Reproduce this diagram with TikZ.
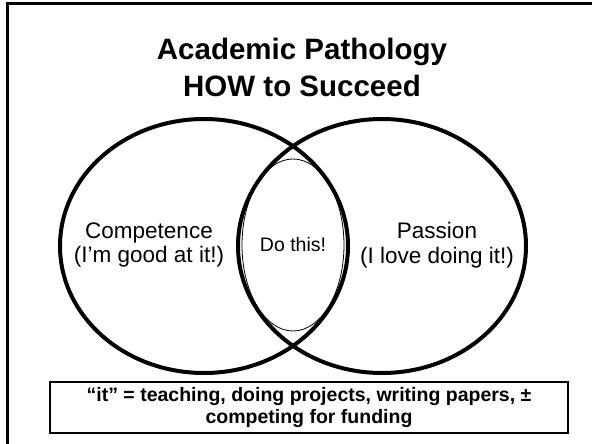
\documentclass[tikz,border=0pt]{standalone}
\usepackage{fontspec}
\setmainfont{Liberation Sans}
\usetikzlibrary{shapes.geometric}
\tikzstyle{ring} = [ellipse, draw, line width=4pt, minimum width=288pt, minimum height=254pt, inner sep=0pt]
\tikzstyle{venntext} = [align=center, font=\fontsize{22.5}{24.5}\selectfont]

\begin{document}
\begin{tikzpicture}[x=1pt, y=-1pt]
                \clip (0,0) rectangle (592,444);
                \draw [line width=3pt] (7,4) rectangle (612,462);

                \node (title) [align=center, font=\bfseries\fontsize{29.5}{36.5}\selectfont] at (302,67.5) {Academic Pathology\\HOW to Succeed};

                \node (competence) [ring] at (204,246) {};
                \node (passion) [ring] at (382,246) {};
                \node (lens) [ellipse, draw, line width=0.8pt, minimum width=102pt, minimum height=172pt, inner sep=0pt, font=\fontsize{19.5}{22}\selectfont] at (293,245) {Do this!};

                \node (good) [venntext] at (149,245) {Competence\\(I’m good at it!)};
                \node (love) [venntext] at (437,245) {Passion\\(I love doing it!)};

                \node (note) [draw, line width=1.5pt, minimum width=518pt, minimum height=51pt, inner sep=0pt, align=center, font=\bfseries\fontsize{19.5}{21.5}\selectfont] at (309,407.5) {“it” = teaching, doing projects, writing papers, ±\\competing for funding};
            \end{tikzpicture}
\end{document}
